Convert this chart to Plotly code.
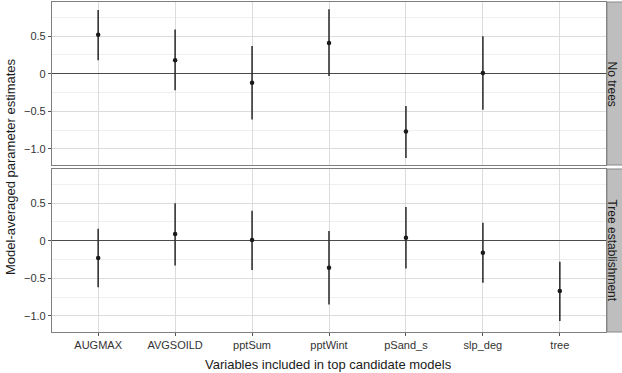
import plotly.graph_objects as go
from plotly.subplots import make_subplots

variables = ["AUGMAX", "AVGSOILD", "pptSum", "pptWint", "pSand_s", "slp_deg", "tree"]

# Panel "No trees" (no 'tree' variable)
nt_vars = ["AUGMAX", "AVGSOILD", "pptSum", "pptWint", "pSand_s", "slp_deg"]
nt_est = [0.52, 0.18, -0.12, 0.41, -0.77, 0.01]
nt_lo = [0.18, -0.22, -0.61, -0.03, -1.12, -0.48]
nt_hi = [0.85, 0.59, 0.37, 0.86, -0.43, 0.50]

# Panel "Tree establishment"
te_vars = ["AUGMAX", "AVGSOILD", "pptSum", "pptWint", "pSand_s", "slp_deg", "tree"]
te_est = [-0.23, 0.09, 0.01, -0.36, 0.04, -0.16, -0.67]
te_lo = [-0.62, -0.33, -0.39, -0.85, -0.37, -0.56, -1.07]
te_hi = [0.16, 0.50, 0.40, 0.13, 0.45, 0.24, -0.28]

panels = ["No trees", "Tree establishment"]
y_tickvals = [0.5, 0, -0.5, -1.0]
y_ticktext = ["0.5", "0", "\u22120.5", "\u22121.0"]

W, H = 622, 373
ml, mr, mt, mb = 52, 16, 2, 41

fig = make_subplots(rows=2, cols=1, shared_xaxes=True, vertical_spacing=0.012)

for row, (xv, est, lo, hi) in enumerate(
        [(nt_vars, nt_est, nt_lo, nt_hi), (te_vars, te_est, te_lo, te_hi)], start=1):
    fig.add_trace(go.Scatter(
        x=xv, y=est, mode="markers",
        marker=dict(color="#1a1a1a", size=4.5),
        error_y=dict(type="data", symmetric=False,
                     array=[h - e for h, e in zip(hi, est)],
                     arrayminus=[e - l for e, l in zip(est, lo)],
                     color="#333333", thickness=1.6, width=0),
        showlegend=False, hoverinfo="skip"), row=row, col=1)

font = dict(family="Liberation Sans, Arial, sans-serif", size=11, color="#333333")

for row in (1, 2):
    fig.update_xaxes(
        type="category", categoryorder="array", categoryarray=variables,
        range=[-0.6, 6.6], showgrid=True, gridcolor="#dcdcdc", gridwidth=1,
        showline=True, mirror=True, linecolor="#7f7f7f", linewidth=1.2,
        ticks="outside" if row == 2 else "", ticklen=3, tickcolor="#555555",
        showticklabels=(row == 2), tickfont=font, zeroline=False,
        automargin=False, row=row, col=1)
    fig.update_yaxes(
        range=[-1.215, 0.955], tickvals=y_tickvals, ticktext=y_ticktext,
        showgrid=True, gridcolor="#dcdcdc", gridwidth=1,
        minor=dict(tickvals=[0.75, 0.25, -0.25, -0.75], showgrid=True,
                   gridcolor="#efefef", gridwidth=1, ticks=""),
        zeroline=True, zerolinecolor="#4a4a4a", zerolinewidth=1.4,
        showline=True, mirror=True, linecolor="#7f7f7f", linewidth=1.2,
        ticks="outside", ticklen=3, tickcolor="#555555", tickfont=font,
        automargin=False, row=row, col=1)

fig.update_layout(
    yaxis=dict(domain=[0.506, 1.0]),
    yaxis2=dict(domain=[0.0, 0.494]),
)

pw = W - ml - mr
ph = H - mt - mb
def px_x(p):
    return (p - ml) / pw
def px_y(p):
    return (H - mb - p) / ph

shapes = []
annotations = []
doms = [[0.506, 1.0], [0.0, 0.494]]
for name, dom in zip(panels, doms):
    shapes.append(dict(type="rect", xref="paper", yref="paper",
                       x0=px_x(607), x1=px_x(628), y0=dom[0], y1=dom[1],
                       fillcolor="#bebebe", line=dict(color="#8a8a8a", width=1)))
    annotations.append(dict(text=name, xref="paper", yref="paper",
                            x=px_x(612), y=(dom[0] + dom[1]) / 2,
                            xanchor="center", yanchor="middle", textangle=90,
                            showarrow=False,
                            font=dict(family="Liberation Sans, Arial, sans-serif",
                                      size=12, color="#1a1a1a")))

annotations.append(dict(text="Model-averaged parameter estimates", xref="paper", yref="paper",
                        x=px_x(10), y=0.5, xanchor="center", yanchor="middle",
                        textangle=-90, showarrow=False,
                        font=dict(family="Liberation Sans, Arial, sans-serif",
                                  size=13, color="#1a1a1a")))
annotations.append(dict(text="Variables included in top candidate models", xref="paper", yref="paper",
                        x=px_x(328), y=px_y(364), xanchor="center", yanchor="middle",
                        showarrow=False,
                        font=dict(family="Liberation Sans, Arial, sans-serif",
                                  size=13, color="#1a1a1a")))

fig.update_layout(
    width=W, height=H,
    margin=dict(l=ml, r=mr, t=mt, b=mb),
    paper_bgcolor="white", plot_bgcolor="white",
    shapes=shapes, annotations=annotations,
)

fig.write_html("out.html", config={"displayModeBar": False},
               post_script="document.body.style.margin='0';document.body.style.overflow='hidden';")
